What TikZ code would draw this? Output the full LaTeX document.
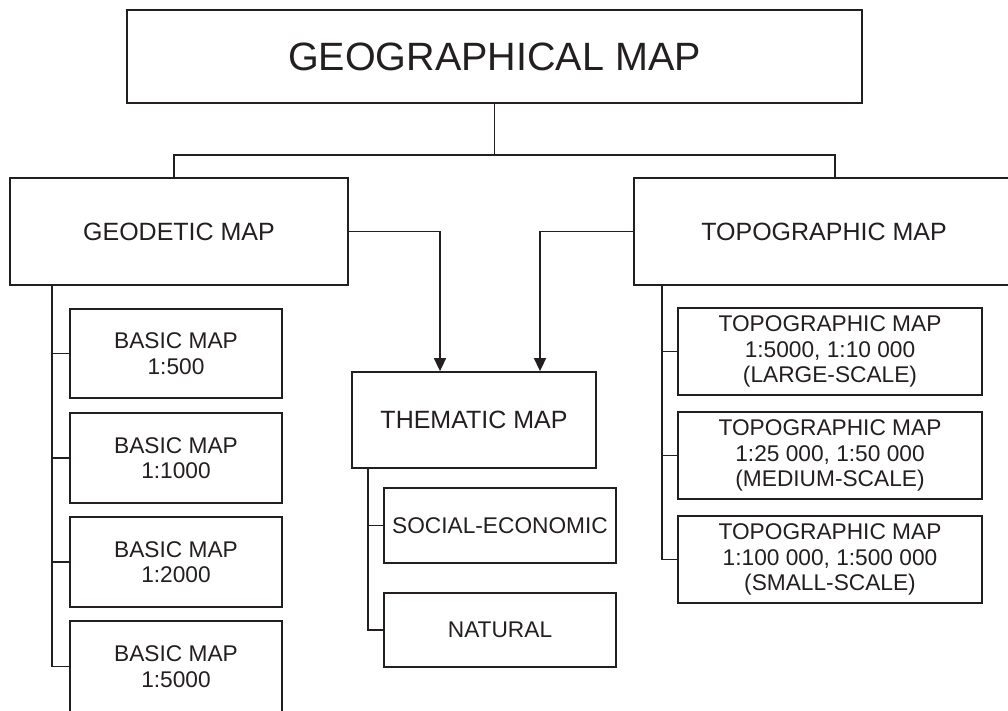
\documentclass[tikz,border=0pt]{standalone}
\usepackage{fontspec}
\setmainfont{Liberation Sans}
\usetikzlibrary{arrows.meta}
\definecolor{ink}{RGB}{35,31,32}
\begin{document}
\begin{tikzpicture}[x=1pt,y=-1pt,
  box/.style={draw=ink,line width=1.8pt,inner sep=0pt,align=center,text=ink},
  bigbox/.style={box,font=\fontsize{39.5}{44}\selectfont},
  midbox/.style={box,font=\fontsize{25}{29}\selectfont},
  smallbox/.style={box,font=\fontsize{22.7}{25.5}\selectfont},
  conn/.style={draw=ink,line width=1.6pt},
  arr/.style={conn,-{Triangle[length=13pt,width=12pt]}}]
\useasboundingbox (0,0) rectangle (1008,710);
\clip (0,0) rectangle (1008,710);
\fill[white] (0,0) rectangle (1008,710);
% nodes
\node[bigbox,minimum width=735,minimum height=93] (top) at (494.5,56.5) {GEOGRAPHICAL MAP};
\node[midbox,minimum width=338,minimum height=107] (geo) at (179,231.5) {GEODETIC MAP};
\node[midbox,minimum width=380,minimum height=107] (topo) at (824,231.5) {TOPOGRAPHIC MAP};
\node[midbox,minimum width=244,minimum height=96] (them) at (474,420) {THEMATIC MAP};
\node[smallbox,minimum width=232,minimum height=75] (soc) at (500,525.5) {SOCIAL-ECONOMIC};
\node[smallbox,minimum width=232,minimum height=74] (nat) at (500,630) {NATURAL};
\node[smallbox,minimum width=212,minimum height=89] (b1) at (176,353.5) {BASIC MAP\\1:500};
\node[smallbox,minimum width=212,minimum height=90] (b2) at (176,458) {BASIC MAP\\1:1000};
\node[smallbox,minimum width=212,minimum height=90] (b3) at (176,562) {BASIC MAP\\1:2000};
\node[smallbox,minimum width=212,minimum height=91] (b4) at (176,666.5) {BASIC MAP\\1:5000};
\node[smallbox,minimum width=304,minimum height=87] (t1) at (830,351.5) {TOPOGRAPHIC MAP\\1:5000, 1:10 000\\(LARGE-SCALE)};
\node[smallbox,minimum width=304,minimum height=87] (t2) at (830,455.5) {TOPOGRAPHIC MAP\\1:25 000, 1:50 000\\(MEDIUM-SCALE)};
\node[smallbox,minimum width=304,minimum height=87] (t3) at (830,559.5) {TOPOGRAPHIC MAP\\1:100 000, 1:500 000\\(SMALL-SCALE)};
% bus
\coordinate (busL) at (174,155);
\coordinate (busR) at (835,155);
\draw[conn] (top.south) -- (top.south |- busL);
\draw[conn] (busL |- geo.north) -- (busL) -- (busR) -- (busR |- topo.north);
% arrows to thematic
\draw[arr] (geo.east) -| ([xshift=-34pt]them.north);
\draw[arr] (topo.west) -| ([xshift=66pt]them.north);
% geodetic tree
\coordinate (gx) at (52,0);
\draw[conn] (gx |- geo.south) |- (b4.west);
\foreach \n in {b1,b2,b3} \draw[conn] (gx |- \n.west) -- (\n.west);
% thematic tree
\coordinate (hx) at (368,0);
\draw[conn] (hx |- them.south) |- (nat.west);
\draw[conn] (hx |- soc.west) -- (soc.west);
% topographic tree
\coordinate (tx) at (662,0);
\draw[conn] (tx |- topo.south) |- (t3.west);
\foreach \n in {t1,t2} \draw[conn] (tx |- \n.west) -- (\n.west);
\end{tikzpicture}
\end{document}
